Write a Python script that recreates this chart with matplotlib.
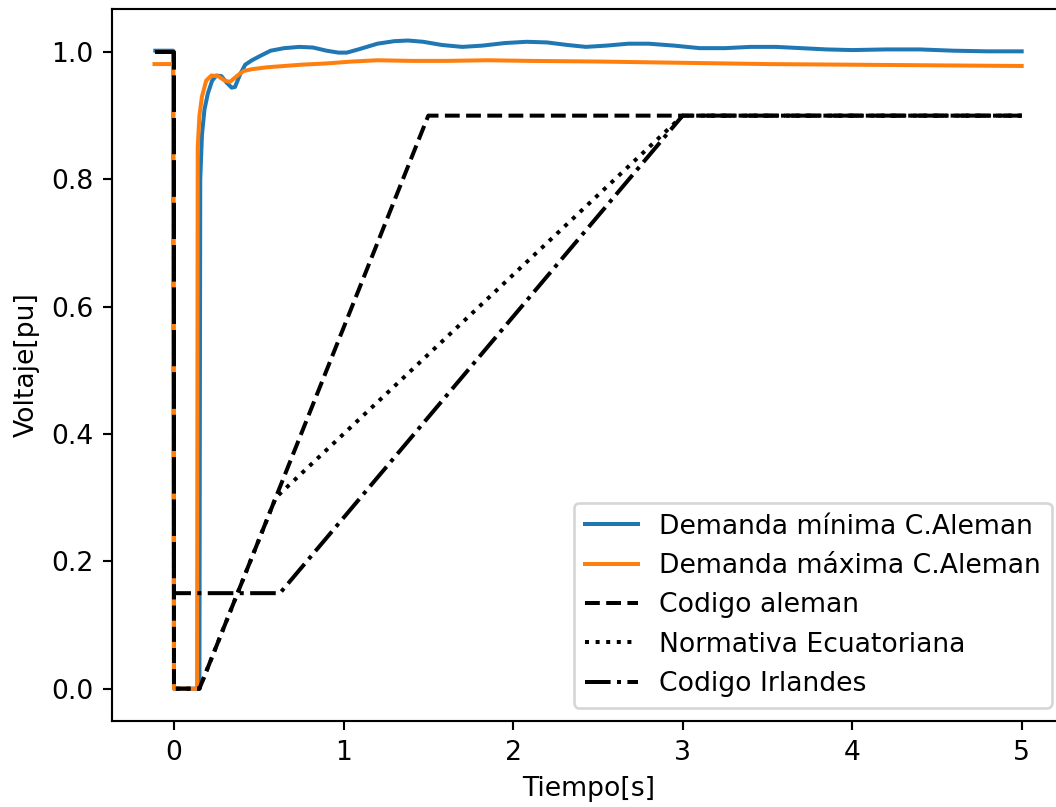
import matplotlib.pyplot as plt

# respuesta de tension - demanda minima
t_min = [-0.11, -0.005, 0.0, 0.15, 0.155, 0.165, 0.18, 0.20, 0.225, 0.25, 0.28, 0.31, 0.34,
         0.36, 0.39, 0.42, 0.46, 0.51, 0.57, 0.65, 0.74, 0.82, 0.90, 0.97, 1.02, 1.10,
         1.20, 1.30, 1.38, 1.47, 1.58, 1.70, 1.82, 1.95, 2.08, 2.20, 2.32, 2.43, 2.55,
         2.68, 2.80, 2.95, 3.10, 3.25, 3.40, 3.55, 3.70, 3.85, 4.00, 4.20, 4.40, 4.60,
         4.80, 5.00]
v_min = [1.002, 1.002, 0.0, 0.0, 0.80, 0.87, 0.91, 0.935, 0.955, 0.963, 0.962, 0.952, 0.944,
         0.945, 0.965, 0.980, 0.987, 0.994, 1.002, 1.006, 1.008, 1.007, 1.002, 0.999, 0.999,
         1.005, 1.013, 1.017, 1.018, 1.016, 1.011, 1.008, 1.010, 1.014, 1.016, 1.015, 1.011,
         1.008, 1.010, 1.013, 1.013, 1.010, 1.006, 1.006, 1.008, 1.008, 1.006, 1.004, 1.003,
         1.004, 1.004, 1.002, 1.001, 1.001]

# respuesta de tension - demanda maxima
t_max = [-0.115, -0.005, 0.0, 0.136, 0.14, 0.15, 0.165, 0.19, 0.22, 0.26, 0.30, 0.33, 0.37,
         0.41, 0.46, 0.55, 0.65, 0.75, 0.90, 1.05, 1.20, 1.40, 1.60, 1.85, 2.10, 2.50,
         3.00, 3.50, 4.00, 4.50, 5.00]
v_max = [0.981, 0.981, 0.0, 0.0, 0.85, 0.90, 0.93, 0.955, 0.963, 0.962, 0.955, 0.953, 0.962,
         0.970, 0.973, 0.976, 0.978, 0.980, 0.982, 0.985, 0.987, 0.986, 0.986, 0.987, 0.986,
         0.985, 0.983, 0.981, 0.980, 0.979, 0.978]

# curvas LVRT de los codigos de red
t_aleman = [-0.11, 0.0, 0.0, 0.15, 1.5, 5.0]
v_aleman = [1.0, 1.0, 0.0, 0.0, 0.9, 0.9]

t_ecuador = [-0.11, 0.0, 0.0, 0.15, 0.6, 3.0, 5.0]
v_ecuador = [1.0, 1.0, 0.0, 0.0, 0.3, 0.9, 0.9]

t_irlanda = [-0.11, 0.0, 0.0, 0.625, 3.0, 5.0]
v_irlanda = [1.0, 1.0, 0.15, 0.15, 0.9, 0.9]

fig = plt.figure(figsize=(1056 / 192, 807 / 192), dpi=192)
ax = fig.add_axes([112 / 1056, 86 / 807, 953 / 1056, 712 / 807])

ax.plot(t_min, v_min, label="Demanda mínima C.Aleman")
ax.plot(t_max, v_max, label="Demanda máxima C.Aleman")
ax.plot(t_aleman, v_aleman, "k--", label="Codigo aleman")
ax.plot(t_ecuador, v_ecuador, "k:", label="Normativa Ecuatoriana")
ax.plot(t_irlanda, v_irlanda, "k-.", label="Codigo Irlandes")

ax.set_xlim(-0.3656, 5.2555)
ax.set_ylim(-0.0508, 1.0675)
ax.set_xticks([0, 1, 2, 3, 4, 5])
ax.set_yticks([0.0, 0.2, 0.4, 0.6, 0.8, 1.0])
ax.set_xlabel("Tiempo[s]")
ax.set_ylabel("Voltaje[pu]")
ax.legend(loc="lower right")

fig.savefig("out.png", dpi=192)
